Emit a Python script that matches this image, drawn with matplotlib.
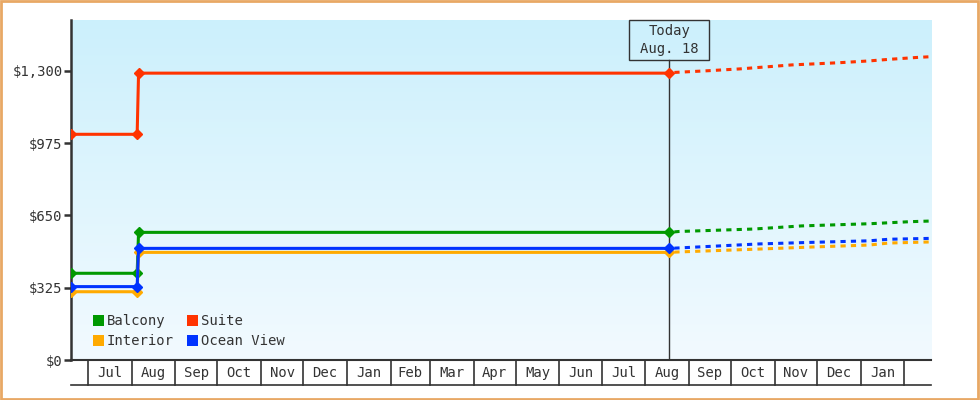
import datetime as dt
import numpy as np
import matplotlib
matplotlib.use("Agg")
import matplotlib.pyplot as plt
import matplotlib.dates as mdates
from matplotlib.colors import LinearSegmentedColormap
from matplotlib.patches import Rectangle, Patch
from matplotlib.transforms import blended_transform_factory, ScaledTranslation

# ---------------- data ----------------
series_names = ["Balcony", "Interior", "Suite", "Ocean View"]
series_colors = ["#009900", "#ffaa00", "#ff3300", "#0033ff"]

hist_dates = ["2013-06-19", "2013-08-05", "2013-08-06", "2014-08-18"]
hist_balcony = [390, 390, 574, 574]
hist_interior = [307, 307, 484, 484]
hist_suite = [1015, 1015, 1290, 1290]
hist_ocean = [330, 330, 502, 502]

fc_suite_dates = ["2014-08-18", "2014-09-15", "2014-10-07", "2014-11-13", "2014-12-17",
                  "2015-01-07", "2015-01-21", "2015-02-11", "2015-02-20"]
fc_suite = [1292, 1301, 1309, 1327, 1337, 1345, 1352, 1361, 1364]

fc_balcony_dates = ["2014-08-18", "2014-08-25", "2014-10-17", "2014-11-20", "2015-01-08",
                    "2015-02-05", "2015-02-20"]
fc_balcony = [574, 578, 589, 603, 613, 622, 625]

fc_ocean_dates = ["2014-08-18", "2014-08-25", "2014-10-21", "2014-11-27", "2015-01-07",
                  "2015-01-21", "2015-02-20"]
fc_ocean = [502, 504, 522, 529, 536, 543, 547]

fc_interior_dates = ["2014-08-18", "2014-08-25", "2014-10-21", "2014-11-27", "2015-01-07",
                     "2015-01-21", "2015-02-20"]
fc_interior = [484, 486, 499, 508, 517, 526, 531]

y_ticks = [0, 325, 650, 975, 1300]
y_tick_labels = ["$0", "$325", "$650", "$975", "$1,300"]
month_labels = ["Jul", "Aug", "Sep", "Oct", "Nov", "Dec", "Jan", "Feb", "Mar", "Apr",
                "May", "Jun", "Jul", "Aug", "Sep", "Oct", "Nov", "Dec", "Jan"]
today_date = "2014-08-18"
today_text = "Today\nAug. 18"

# ---------------- style ----------------
plt.rcParams['font.family'] = ['DejaVu Sans Mono', 'DejaVu Sans']
TXT = "#333333"

def d(s):
    return dt.datetime.strptime(s, "%Y-%m-%d")

fig = plt.figure(figsize=(9.8, 4.0), dpi=100)
ax = fig.add_axes([71/980, 40/400, 860/980, 340/400])

x0, x1 = d("2013-06-19"), d("2015-02-20")
ymax = 1529

# gradient background
cmap = LinearSegmentedColormap.from_list("bg", ["#f2faff", "#ccf0fc"])
grad = np.linspace(0, 1, 256).reshape(-1, 1)
ax.imshow(grad, extent=[0, 1, 0, 1], transform=ax.transAxes, aspect="auto",
          cmap=cmap, origin="lower", zorder=0)

hist_values = {"Balcony": hist_balcony, "Interior": hist_interior,
               "Suite": hist_suite, "Ocean View": hist_ocean}
fc = {"Balcony": (fc_balcony_dates, fc_balcony),
      "Interior": (fc_interior_dates, fc_interior),
      "Suite": (fc_suite_dates, fc_suite),
      "Ocean View": (fc_ocean_dates, fc_ocean)}

hd = [d(s) for s in hist_dates]
draw_order = ["Suite", "Balcony", "Interior", "Ocean View"]
for name in draw_order:
    c = series_colors[series_names.index(name)]
    ax.plot(hd, hist_values[name], color=c, lw=2.2, marker="D", ms=5.5,
            solid_capstyle="butt", zorder=3)
    fd, fv = fc[name]
    ax.plot([d(s) for s in fd], fv, color=c, lw=2.2,
            linestyle=(1.7, (1.7, 1.7)), dash_capstyle="butt", zorder=3)

ax.set_xlim(x0, x1)
ax.set_ylim(0, ymax)
ax.set_autoscale_on(False)

# spines
for s in ["top", "right"]:
    ax.spines[s].set_visible(False)
ax.spines["left"].set_color(TXT)
ax.spines["left"].set_linewidth(1.8)
ax.spines["bottom"].set_color(TXT)
ax.spines["bottom"].set_linewidth(1.5)

ax.set_yticks(y_ticks)
ax.set_yticklabels(y_tick_labels)
ax.tick_params(axis="y", length=5, width=1.8, color=TXT, labelcolor=TXT,
               labelsize=10, pad=1)

# month boxes below the axis
months = []
m = dt.datetime(2013, 7, 1)
while m <= dt.datetime(2015, 2, 1):
    months.append(m)
    m = dt.datetime(m.year + (m.month // 12), m.month % 12 + 1, 1)
bt = blended_transform_factory(ax.transData, ax.transAxes)
box_h = 25 / 340
for mm in months:
    ax.plot([mm, mm], [0, -box_h], transform=bt, color=TXT, lw=1.2, clip_on=False)
ax.plot([0, 1], [-box_h, -box_h], transform=ax.transAxes, color=TXT, lw=1.2,
        clip_on=False)
mids = [months[i] + (months[i + 1] - months[i]) / 2 for i in range(len(months) - 1)]
ax.set_xticks(mids)
ax.set_xticklabels(month_labels)
ax.tick_params(axis="x", length=0, pad=4, labelsize=10, labelcolor=TXT)

# today marker
td = d(today_date)
tn = mdates.date2num(td)
ax.axvline(td, ymin=0, ymax=(340 - 40) / 340, color=TXT, lw=1, zorder=2)
tr = fig.dpi_scale_trans + ScaledTranslation(tn, 1.0, bt)
ax.add_patch(Rectangle((-0.40, -0.40), 0.80, 0.40, transform=tr, fill=False,
                       edgecolor=TXT, lw=1, clip_on=False, zorder=4))
ax.text(0, -0.20, today_text, transform=tr, ha="center", va="center",
        fontsize=10, color=TXT, linespacing=1.3, zorder=5)

# legend
handles = [Patch(facecolor=series_colors[i], edgecolor="none") for i in range(4)]
leg = ax.legend(handles, series_names, ncol=2, loc="upper left",
                bbox_to_anchor=(0.025, 0.135), frameon=False, fontsize=10,
                handlelength=0.8, handleheight=0.8, handletextpad=0.2,
                columnspacing=1.0, labelspacing=0.45, borderpad=0,
                borderaxespad=0)
for t in leg.get_texts():
    t.set_color(TXT)

# outer border
fig.patches.append(Rectangle((0.001, 0.002), 0.997, 0.995, transform=fig.transFigure,
                             fill=False, edgecolor="#e8a865", lw=2))

fig.savefig("out.png", dpi=100)
